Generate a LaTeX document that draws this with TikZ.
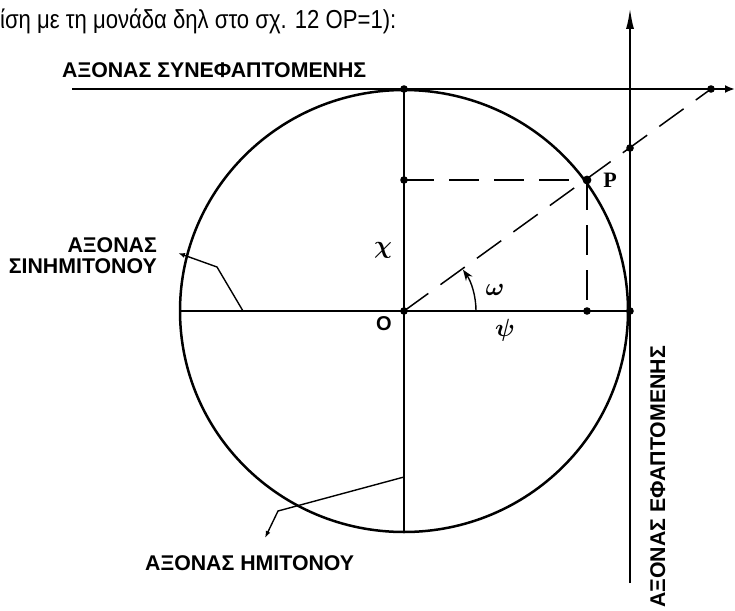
\documentclass[tikz,border=0pt]{standalone}
\usepackage{fontspec}
\setmainfont{Liberation Sans}
\newfontfamily\serifP{Liberation Serif}
\newfontfamily\kopfschrift[FakeStretch=0.85]{Liberation Sans}
\usetikzlibrary{arrows.meta}

\tikzset{
  achse/.style={line width=2.5pt},
  hilfs/.style={line width=1.5pt, dash pattern=on 30pt off 15pt},
  zeiger/.style={line width=1.4pt},
  achslabel/.style={font=\bfseries\fontsize{21.3}{21}\selectfont, inner sep=0pt},
  buchst/.style={font=\boldmath\fontsize{23}{24}\selectfont, inner sep=0pt},
}

\begin{document}
\begin{tikzpicture}[x=1pt,y=-1pt]
  \useasboundingbox (0,0) rectangle (735,610);

  % Kopfzeile
  \node[anchor=base west, inner sep=0pt, font=\kopfschrift\fontsize{26}{28}\selectfont] (kopf) at (0,29)
    {ίση με τη μονάδα δηλ στο σχ. 12 ΟΡ=1):};

  % Punkte
  \coordinate (O) at (404,311);
  \coordinate (oben) at (404,89);
  \coordinate (unten) at (404,532);
  \coordinate (links) at (180,311);
  \coordinate (rechts) at (630,311);
  \coordinate (P) at (587,180);
  \coordinate (Px) at (587,311);
  \coordinate (Py) at (404,180);
  \coordinate (T) at (630,148);
  \coordinate (C) at (711,89);
  \coordinate (tanU) at (630,583);
  \coordinate (tanO) at (630,7);
  \coordinate (cotL) at (72,89);
  \coordinate (cotR) at (735,89);

  % Kreis und Achsen
  \draw[achse] (O) ellipse [x radius=224, y radius=221];
  \draw[achse] (links) -- (rechts);
  \draw[achse] (oben) -- (unten);
  \draw[achse,-{Latex[length=22pt,width=8pt]}] (tanU) -- (tanO);
  \draw[achse,-{Latex[length=10pt,width=8pt]}] (cotL) -- (cotR);

  % gestrichelt
  \draw[hilfs] (Py) -- (P);
  \draw[hilfs] (P) -- (Px);
  \draw[hilfs] (O) -- (C);

  % Winkel
  \draw[zeiger,-{Stealth[length=11pt,width=8pt]}] (476,311) arc[start angle=0, end angle=-35, radius=72];

  \foreach \p in {O,oben,Py,Px,rechts,T,C} \fill (\p) circle (3.8);
  \fill (P) circle (4.4);

  % Hinweislinien
  \coordinate (cosA) at (243,311);
  \coordinate (cosB) at (217,267);
  \coordinate (cosE) at (178,253);
  \draw[zeiger,-{Latex[length=7pt,width=5pt]}] (cosA) -- (cosB) -- (cosE);
  \coordinate (sinA) at (404,477);
  \coordinate (sinB) at (278,511);
  \coordinate (sinE) at (265,538);
  \draw[zeiger,-{Latex[length=7pt,width=5pt]}] (sinA) -- (sinB) -- (sinE);

  % Beschriftungen
  \node[achslabel, anchor=base west] (lcot) at (62,77) {ΑΞΟΝΑΣ ΣΥΝΕΦΑΠΤΟΜΕΝΗΣ};
  \node[achslabel, anchor=base east, align=right] (lcos) at (157,273) {ΑΞΟΝΑΣ\\ΣΙΝΗΜΙΤΟΝΟΥ};
  \node[achslabel, anchor=base west] (lsin) at (145,570) {ΑΞΟΝΑΣ ΗΜΙΤΟΝΟΥ};
  \node[achslabel, anchor=base west, rotate=90] (ltan) at (665,608) {ΑΞΟΝΑΣ ΕΦΑΠΤΟΜΕΝΗΣ};

  \node[buchst, font=\serifP\bfseries\fontsize{22}{24}\selectfont] (lP) at (610,180) {P};
  \node[buchst] (lchi) at (383,250) {$\chi$};
  \node[buchst] (lomega) at (495,290) {$\omega$};
  \node[buchst] (lpsi) at (505,330) {$\psi$};
  \node[buchst, font=\bfseries\fontsize{20}{22}\selectfont] (lO) at (384,324) {O};
\end{tikzpicture}
\end{document}
